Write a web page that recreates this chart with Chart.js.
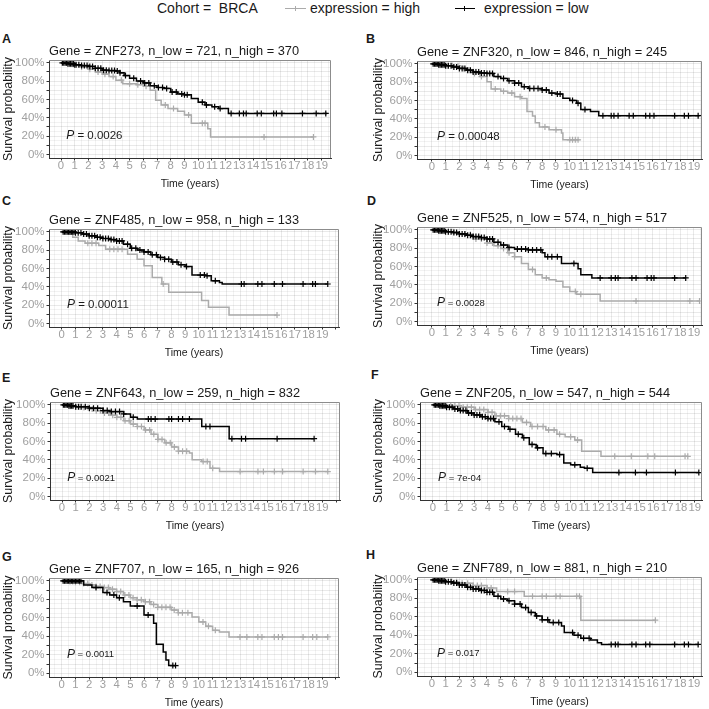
<!doctype html>
<html>
<head>
<meta charset="utf-8">
<title>BRCA survival by ZNF expression</title>
<script src="https://cdn.jsdelivr.net/npm/chart.js"></script>
<style>
  body { margin: 0; background: #fff; font-family: "Liberation Sans", Arial, sans-serif; color: #1a1a1a; }
  #page { position: relative; width: 709px; height: 709px; overflow: hidden; }
  .abs { position: absolute; white-space: pre; }
  .letter { font-weight: bold; font-size: 12.5px; line-height: 13px; }
  .leg { font-size: 14px; line-height: 16px; top: 0; }
  .key { position: absolute; top: 8px; height: 0; }
  canvas { position: absolute; }
</style>
</head>
<body>
<div id="page">
  <div class="abs leg" style="left:157px">Cohort =  BRCA</div>
  <div class="key" style="left:285px;width:21px;border-top:1px solid #ababab"></div>
  <div class="key" style="left:295px;width:1px;height:5px;top:6px;background:#ababab"></div>
  <div class="abs leg" style="left:310px">expression = high</div>
  <div class="key" style="left:455px;width:20px;border-top:1.5px solid #000"></div>
  <div class="key" style="left:464px;width:1px;height:5px;top:6px;background:#000"></div>
  <div class="abs leg" style="left:484px">expression = low</div>
</div>
<script>
// panel labels
const genes = ["ZNF273", "ZNF320", "ZNF485", "ZNF525", "ZNF643", "ZNF205", "ZNF707", "ZNF789"];
const nLow = [721, 846, 958, 574, 259, 547, 165, 881];
const nHigh = [370, 245, 133, 517, 832, 544, 926, 210];
const pValues = ["0.0026", "0.00048", "0.00011", "0.0028", "0.0021", "7e-04", "0.0011", "0.017"];

// Kaplan-Meier steps [time in years, survival]
const lowA = [[0,1],[0.5,0.99],[1,0.98],[1.5,0.97],[2,0.96],[2.5,0.94],[3,0.92],[3.5,0.915],[4,0.91],[4.3,0.89],[4.6,0.86],[5,0.83],[5.5,0.8],[6,0.78],[6.5,0.75],[7,0.73],[7.5,0.72],[8,0.68],[8.5,0.66],[9,0.65],[9.5,0.61],[10,0.57],[10.5,0.54],[11,0.52],[11.5,0.5],[12.2,0.447],[19.4,0.447]];
const highA = [[0,1],[0.5,0.985],[1,0.97],[1.5,0.955],[2,0.93],[2.5,0.9],[3,0.876],[3.5,0.85],[4,0.81],[4.5,0.77],[5.5,0.76],[6,0.745],[6.5,0.7],[6.9,0.59],[7.3,0.54],[7.8,0.5],[8.5,0.47],[9,0.43],[9.5,0.34],[10.7,0.28],[10.9,0.19],[18.4,0.19]];
const lowB = [[0,1],[0.5,0.99],[1,0.98],[1.5,0.965],[2,0.95],[2.5,0.93],[3,0.91],[3.5,0.9],[4,0.895],[4.5,0.86],[5,0.84],[5.5,0.815],[6,0.79],[6.5,0.75],[7,0.73],[8,0.715],[8.5,0.68],[9,0.67],[9.5,0.625],[10,0.6],[10.5,0.57],[10.8,0.5],[11.5,0.48],[12.1,0.433],[19.4,0.433]];
const highB = [[0,1],[1,0.98],[2,0.95],[2.5,0.93],[3,0.895],[3.5,0.86],[4,0.805],[4.3,0.725],[5,0.7],[5.5,0.68],[6,0.64],[6.5,0.62],[6.9,0.48],[7.3,0.43],[7.5,0.355],[7.8,0.31],[8.5,0.28],[9.4,0.245],[9.5,0.17],[10.7,0.17]];
const lowC = [[0,1],[1,0.99],[1.5,0.975],[2,0.956],[2.5,0.94],[3,0.927],[3.5,0.915],[4,0.9],[4.5,0.865],[5,0.82],[5.5,0.8],[6,0.78],[6.5,0.75],[7,0.72],[7.5,0.7],[8,0.67],[8.5,0.64],[9,0.62],[9.5,0.527],[10.5,0.52],[10.9,0.465],[11.5,0.447],[11.7,0.43],[19.4,0.43]];
const highC = [[0,1],[0.5,0.975],[0.8,0.94],[1.2,0.9],[1.7,0.876],[2.7,0.85],[3.2,0.81],[4.8,0.756],[5.5,0.7],[6,0.63],[6.6,0.5],[7.3,0.43],[7.8,0.34],[10.2,0.25],[10.7,0.175],[12.2,0.09],[15.7,0.09]];
const lowD = [[0,1],[0.5,0.99],[1,0.98],[1.5,0.97],[2,0.955],[2.5,0.94],[3,0.926],[3.5,0.915],[4,0.9],[4.5,0.863],[5,0.833],[5.5,0.807],[6,0.79],[7,0.78],[8,0.75],[8.2,0.707],[9.4,0.633],[10.6,0.574],[10.8,0.51],[11.6,0.474],[18.4,0.474]];
const highD = [[0,1],[1,0.98],[2,0.95],[3,0.9],[4,0.855],[4.5,0.826],[5,0.796],[5.5,0.75],[6,0.707],[6.5,0.633],[7,0.567],[7.5,0.51],[8,0.474],[8.5,0.455],[9,0.437],[9.5,0.374],[10,0.326],[10.5,0.296],[12.2,0.222],[19.4,0.222]];
const lowE = [[0,1],[0.5,0.99],[1,0.98],[2,0.963],[3,0.937],[3.5,0.926],[4.5,0.9],[5,0.863],[5.5,0.844],[10.2,0.763],[12.2,0.63],[18.4,0.63]];
const highE = [[0,1],[0.5,0.99],[1,0.98],[1.5,0.97],[2,0.955],[2.5,0.935],[3,0.91],[3.5,0.885],[4,0.863],[4.5,0.826],[5,0.79],[5.5,0.763],[6,0.726],[6.5,0.678],[7,0.622],[7.5,0.585],[8,0.54],[8.5,0.493],[9.3,0.474],[9.5,0.4],[10.2,0.38],[10.8,0.307],[11.5,0.27],[19.4,0.27]];
const lowF = [[0,1],[0.5,0.99],[1,0.974],[1.5,0.955],[2,0.937],[2.5,0.91],[3,0.889],[3.5,0.87],[4,0.85],[4.5,0.815],[5,0.763],[5.5,0.733],[6,0.678],[6.5,0.64],[7,0.567],[7.5,0.53],[8,0.467],[9,0.456],[9.5,0.363],[10,0.344],[10.7,0.318],[11,0.307],[11.6,0.26],[19.3,0.26]];
const highF = [[0,1],[1,0.99],[2,0.974],[3,0.948],[4,0.918],[4.5,0.88],[5.5,0.85],[6.5,0.807],[7.1,0.763],[8.2,0.726],[9,0.678],[9.6,0.652],[10.3,0.615],[10.8,0.493],[12.2,0.437],[18.5,0.437]];
const lowG = [[0,1],[1.5,1],[1.6,0.956],[2.2,0.927],[3,0.873],[3.5,0.847],[4,0.818],[4.5,0.775],[5,0.727],[6,0.63],[6.7,0.54],[6.9,0.313],[7.4,0.23],[7.6,0.145],[7.8,0.084],[8.3,0.084]];
const highG = [[0,1],[0.5,0.993],[1,0.985],[1.5,0.97],[2,0.956],[2.5,0.94],[3,0.927],[3.5,0.91],[4,0.884],[4.5,0.847],[5,0.818],[5.5,0.795],[6,0.775],[6.5,0.745],[7,0.713],[8,0.684],[8.5,0.655],[9.5,0.61],[10,0.556],[10.5,0.51],[11,0.465],[11.5,0.447],[12.2,0.393],[19.4,0.393]];
const lowH = [[0,1],[0.5,0.99],[1,0.98],[1.5,0.965],[2,0.945],[2.5,0.92],[3,0.9],[3.5,0.885],[4,0.865],[4.5,0.822],[5,0.793],[5.5,0.775],[6,0.738],[6.5,0.7],[7,0.647],[7.5,0.61],[8,0.567],[8.5,0.538],[9.4,0.5],[9.6,0.43],[10.3,0.4],[10.8,0.367],[11.5,0.35],[12,0.32],[12.3,0.302],[19.3,0.302]];
const highH = [[0,1],[1,0.98],[2,0.964],[3,0.938],[4,0.913],[4.7,0.873],[6.7,0.822],[10.8,0.564],[16.2,0.564]];

// censoring times (the + marks)
const censorLowA = [0.1,0.2,0.3,0.4,0.5,0.6,0.7,0.8,0.9,1.0,1.1,1.3,1.5,1.7,1.9,2.1,2.3,2.5,2.7,2.9,3.1,3.3,3.5,3.7,3.9,4.1,4.3,4.7,5.3,5.8,6.1,6.4,6.8,7.1,7.4,7.7,8.1,8.4,8.8,9.0,9.2,10.3,10.6,11.2,11.6,12.4,13.0,13.3,13.5,14.3,14.6,15.5,15.7,16.1,17.6,18.6,19.3];
const censorHighA = [0.4,0.9,1.5,2.1,2.7,3.2,3.8,4.4,5.0,5.6,6.2,7.6,8.2,9.3,10.3,10.5,14.8,18.4];
const censorLowB = [0.1,0.2,0.3,0.4,0.5,0.6,0.7,0.8,0.9,1.0,1.2,1.4,1.6,1.8,2.0,2.2,2.4,2.6,2.8,3.0,3.2,3.4,3.6,3.8,4.0,4.2,4.4,4.8,5.2,5.6,6.0,6.3,6.7,7.1,7.4,7.7,8.0,8.3,8.7,9.1,9.3,10.2,10.6,11.1,12.4,13.0,13.2,13.5,14.3,14.6,15.5,15.8,16.1,17.6,18.3,18.6,19.3];
const censorHighB = [0.3,0.7,1.1,1.5,1.9,2.3,2.7,3.1,3.6,4.6,5.2,5.8,6.4,8.2,9.0,10.0,10.2,10.4,10.6];
const censorLowC = [0.1,0.2,0.3,0.4,0.5,0.6,0.7,0.8,0.9,1.0,1.2,1.4,1.6,1.8,2.0,2.2,2.4,2.6,2.8,3.0,3.2,3.4,3.6,3.8,4.0,4.2,4.4,4.8,5.1,5.4,5.7,6.0,6.3,6.6,6.9,7.2,7.5,7.8,8.1,8.4,8.7,9.1,10.1,10.4,10.6,11.2,13.1,13.3,14.3,14.6,15.5,16.1,17.6,18.3,18.5,19.4];
const censorHighC = [1.9,2.2,2.5,3.5,3.8,4.1,4.4,7.4,15.7];
const censorLowD = [0.1,0.2,0.3,0.4,0.5,0.6,0.7,0.8,0.9,1.0,1.2,1.4,1.6,1.8,2.0,2.2,2.4,2.6,2.8,3.0,3.2,3.4,3.6,3.8,4.0,4.2,4.4,4.8,5.2,5.6,6.2,6.5,6.8,7.0,7.3,7.6,7.9,8.4,8.7,9.1,10.3,12.2,13.0,13.3,13.5,14.5,14.8,15.6,15.9,16.1,17.6,18.4];
const censorHighD = [0.2,0.5,0.8,1.2,1.6,2.0,2.4,2.8,3.2,3.6,4.0,4.4,4.8,5.2,5.6,6.0,7.3,8.3,10.4,10.8,14.8,18.7,19.4];
const censorLowE = [0.1,0.2,0.3,0.4,0.5,0.6,0.7,0.8,1.0,1.2,1.4,1.7,2.0,2.3,2.6,3.0,3.3,3.6,3.9,4.2,4.5,5.2,6.3,6.5,6.8,7.8,8.0,8.5,8.8,9.3,10.5,10.8,12.4,13.1,13.4,15.7,18.4];
const censorHighE = [0.2,0.4,0.6,0.8,1.0,1.3,1.6,1.9,2.2,2.5,2.8,3.1,3.4,3.7,4.0,4.3,4.6,4.9,5.2,5.5,5.8,6.1,6.4,6.7,7.0,7.3,7.6,7.9,8.2,8.5,8.8,9.1,10.3,10.6,11.0,13.0,14.3,14.7,15.5,16.1,17.6,18.5,19.4];
const censorLowF = [0.1,0.2,0.3,0.4,0.5,0.6,0.7,0.8,0.9,1.0,1.2,1.4,1.6,1.8,2.0,2.2,2.4,2.6,2.8,3.0,3.2,3.4,3.6,3.8,4.0,4.2,4.4,4.8,5.2,5.6,6.2,6.6,7.2,7.6,8.2,8.6,9.2,10.3,11.2,13.5,14.7,15.5,17.6,19.3];
const censorHighF = [0.2,0.4,0.6,0.8,1.0,1.3,1.6,1.9,2.2,2.5,2.8,3.1,3.4,3.7,4.0,4.3,4.6,4.9,5.2,5.5,5.8,6.1,6.4,6.8,7.2,7.6,8.0,8.4,8.8,9.2,10.0,10.5,13.2,14.4,15.6,16.1,18.3,18.5];
const censorLowG = [0.1,0.2,0.3,0.4,0.5,0.6,0.7,0.8,0.9,1.0,1.1,1.2,1.3,1.4,2.5,3.3,3.8,4.2,5.5,6.3,8.1,8.3];
const censorHighG = [0.2,0.4,0.6,0.8,1.0,1.3,1.6,1.9,2.2,2.5,2.8,3.1,3.4,3.7,4.0,4.3,4.6,4.9,5.2,5.5,5.8,6.1,6.4,6.7,7.0,7.3,7.6,7.9,8.2,8.5,8.8,9.2,10.3,10.7,11.2,13.0,13.5,14.3,14.6,15.5,15.8,16.1,17.6,18.3,18.6,19.4];
const censorLowH = [0.1,0.2,0.3,0.4,0.5,0.6,0.7,0.8,0.9,1.0,1.2,1.4,1.6,1.8,2.0,2.2,2.4,2.6,2.8,3.0,3.2,3.4,3.6,3.8,4.0,4.2,4.4,4.8,5.2,5.6,6.0,6.4,6.8,7.2,7.6,8.0,8.4,8.8,9.2,10.2,10.6,11.0,11.4,13.0,13.3,13.5,14.5,14.8,15.5,15.8,17.6,18.3,18.6,19.3];
const censorHighH = [0.3,0.6,1.0,1.4,1.8,2.2,2.6,3.0,3.3,3.6,4.0,4.3,5.5,6.0,7.3,8.0,8.3,9.0,9.3,10.5,10.7,16.2];

const lowCurves = [lowA, lowB, lowC, lowD, lowE, lowF, lowG, lowH];
const highCurves = [highA, highB, highC, highD, highE, highF, highG, highH];
const lowCensors = [censorLowA, censorLowB, censorLowC, censorLowD, censorLowE, censorLowF, censorLowG, censorLowH];
const highCensors = [censorHighA, censorHighB, censorHighC, censorHighD, censorHighE, censorHighF, censorHighG, censorHighH];

// where each panel sits on the page (plot box = left, top, right, bottom)
const panels = [
  { letter: "A", lx: 2, ly: 33, cl: 0,   box: [49, 60, 331, 158],   xr: [-0.875, 19.68] },
  { letter: "B", lx: 366, ly: 33, cl: 370, box: [417, 61, 702, 159],  xr: [-1.07, 19.58] },
  { letter: "C", lx: 2, ly: 195, cl: 0,  box: [49, 229, 339, 327],  xr: [-0.93, 20.22] },
  { letter: "D", lx: 367, ly: 195, cl: 370, box: [417, 227, 702, 325], xr: [-1.07, 19.58] },
  { letter: "E", lx: 2, ly: 372, cl: 0,  box: [50, 402, 340, 500],  xr: [-0.876, 20.29] },
  { letter: "F", lx: 371, ly: 369, cl: 370, box: [420, 402, 702, 500], xr: [-0.93, 19.53] },
  { letter: "G", lx: 2, ly: 551, cl: 0,  box: [49, 578, 339, 677],  xr: [-0.93, 20.22] },
  { letter: "H", lx: 366, ly: 549, cl: 370, box: [417, 577, 702, 676], xr: [-1.07, 19.58] },
];

const FONT = '"Liberation Sans", Arial, sans-serif';
Chart.defaults.font.family = FONT;
Chart.defaults.color = "#1a1a1a";
Chart.defaults.animation = false;

const BLACK = "#000000";
const GREY = "#ababab";

function survAt(curve, t) {
  let s = curve[0][1];
  for (const [x, y] of curve) { if (x <= t) s = y; }
  return s;
}

const panelDecor = {
  id: "panelDecor",
  afterDraw(chart, args, opts) {
    const { ctx, chartArea: a, scales: { x, y } } = chart;
    ctx.save();
    ctx.strokeStyle = "#8c8c8c";
    ctx.lineWidth = 1;
    const top = Math.round(a.top) + 0.5, right = Math.round(a.right) - 0.5;
    ctx.beginPath();
    ctx.moveTo(a.left, top); ctx.lineTo(right, top); ctx.lineTo(right, a.bottom);
    ctx.stroke();
    const px = x.getPixelForValue(0.38), py = y.getPixelForValue(0.2);
    ctx.fillStyle = "#1a1a1a";
    ctx.textBaseline = "middle";
    ctx.textAlign = "left";
    ctx.font = "italic 12px " + FONT;
    ctx.fillText("P", px, py);
    const w = ctx.measureText("P").width;
    ctx.font = (opts.small ? "9.5px " : "11.5px ") + FONT;
    ctx.fillText(" = " + opts.p, px + w, py);
    ctx.restore();
  }
};

const page = document.getElementById("page");
const isMajorY = (v) => Math.abs(v * 10 - Math.round(v * 10)) < 1e-6;

panels.forEach((p, i) => {
  const [bl, bt, br, bb] = p.box;
  const lab = document.createElement("div");
  lab.className = "abs letter";
  lab.style.left = p.lx + "px";
  lab.style.top = p.ly + "px";
  lab.textContent = p.letter;
  page.appendChild(lab);

  const canvas = document.createElement("canvas");
  const top = bt - 30;
  canvas.width = br + 6 - p.cl;
  canvas.height = (bb - bt) + 65;
  canvas.style.left = p.cl + "px";
  canvas.style.top = top + "px";
  page.appendChild(canvas);

  const toXY = (c) => c.map(([x, y]) => ({ x, y }));
  const marks = (times, curve) => times.map((t) => ({ x: t, y: survAt(curve, t) }));

  new Chart(canvas, {
    type: "line",
    data: {
      datasets: [
        { data: toXY(lowCurves[i]), borderColor: BLACK, borderWidth: 1.5, stepped: true, pointRadius: 0, order: 0 },
        { data: marks(lowCensors[i], lowCurves[i]), showLine: false, pointStyle: "cross", pointRadius: 3,
          pointBorderWidth: 1.2, pointBorderColor: BLACK, order: 0 },
        { data: toXY(highCurves[i]), borderColor: GREY, borderWidth: 1.5, stepped: true, pointRadius: 0, order: 1 },
        { data: marks(highCensors[i], highCurves[i]), showLine: false, pointStyle: "cross", pointRadius: 3,
          pointBorderWidth: 1.2, pointBorderColor: GREY, order: 1 },
      ],
    },
    options: {
      responsive: false,
      events: [],
      layout: { padding: { left: 0, right: 6, top: 0, bottom: 0 } },
      plugins: {
        legend: { display: false },
        tooltip: { enabled: false },
        title: {
          display: true,
          text: "Gene = " + genes[i] + ", n_low = " + nLow[i] + ", n_high = " + nHigh[i],
          align: "start",
          fullSize: false,
          color: "#1a1a1a",
          font: { size: 12.8, weight: "normal" },
          padding: { top: 14.2, bottom: 0.5 },
        },
        panelDecor: { p: pValues[i], small: i >= 3 },
      },
      scales: {
        x: {
          type: "linear",
          bounds: "data",
          min: p.xr[0],
          max: p.xr[1],
          afterBuildTicks: (s) => {
            const t = [];
            for (let k = -4; k <= 42; k++) {
              const v = k / 2;
              if (v > s.min + 1e-9 && v < s.max - 1e-9) t.push({ value: v });
            }
            s.ticks = t;
          },
          afterFit: (s) => { s.height = 35; },
          ticks: {
            autoSkip: false,
            maxRotation: 0,
            minRotation: 0,
            padding: 0,
            color: "#a0a0a0",
            font: { size: 11.3, lineHeight: 1 },
            callback: (v) => (Number.isInteger(v) && v >= 0 && v <= 19 ? String(v) : ""),
          },
          grid: {
            color: (c) => (Number.isInteger(c.tick.value) ? "rgba(0,0,0,0.085)" : "rgba(0,0,0,0.05)"),
            tickColor: (c) => (Number.isInteger(c.tick.value) && c.tick.value >= 0 ? "#333" : "rgba(0,0,0,0)"),
            tickLength: 2.5,
          },
          border: { color: "#333", width: 1 },
          title: {
            display: true,
            text: "Time (years)",
            color: "#1a1a1a",
            font: { size: 10.5 },
            padding: { top: 0, bottom: 2.7 },
          },
        },
        y: {
          type: "linear",
          bounds: "data",
          min: -0.04,
          max: 1.03,
          afterBuildTicks: (s) => {
            const t = [];
            for (let k = 0; k <= 20; k++) t.push({ value: k / 20 });
            s.ticks = t;
          },
          afterFit: (s) => { s.width = bl - p.cl; },
          ticks: {
            autoSkip: false,
            padding: 2,
            color: "#a0a0a0",
            font: { size: 11.5 },
            callback: (v) => {
              const k = Math.round(v * 100);
              return Math.abs(v * 100 - k) < 1e-6 && k % 20 === 0 ? k + "%" : "";
            },
          },
          grid: {
            color: (c) => (isMajorY(c.tick.value) ? "rgba(0,0,0,0.085)" : "rgba(0,0,0,0.05)"),
            tickColor: (c) => (isMajorY(c.tick.value) ? "#333" : "rgba(0,0,0,0)"),
            tickLength: 2.5,
          },
          border: { color: "#333", width: 1 },
          title: {
            display: true,
            text: "Survival probability",
            color: "#1a1a1a",
            font: { size: 12.4 },
            padding: { top: 1.6, bottom: 0 },
          },
        },
      },
    },
    plugins: [panelDecor],
  });
});
</script>
</body>
</html>
